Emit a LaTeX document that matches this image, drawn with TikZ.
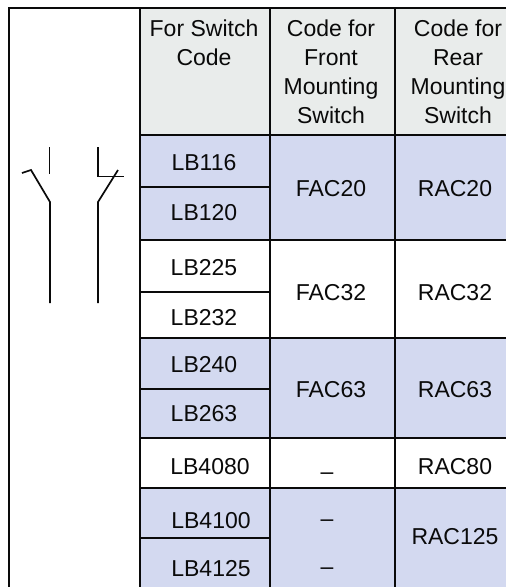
\documentclass[tikz,border=0pt]{standalone}
\usepackage{fontspec}
\setmainfont{Liberation Sans}
\definecolor{hdr}{HTML}{E9ECEB}
\definecolor{blu}{HTML}{D3D9F0}
\definecolor{ink}{HTML}{0A0A0A}
\tikzset{
 grid/.style={draw=ink,line width=2pt},
 sym/.style={draw=ink,line width=1.7pt,line join=miter},
 cell/.style={anchor=base,inner sep=0pt,text=ink,font=\fontsize{23}{29}\selectfont},
 head/.style={anchor=base,inner sep=0pt,text=ink,font=\fontsize{23}{29}\selectfont}
}
\begin{document}
\begin{tikzpicture}[x=1pt,y=-1pt]
\useasboundingbox (0,0) rectangle (506,587);
\fill[white] (0,0) rectangle (506,587);
% fills
\fill[hdr] (139.5,8) rectangle (506,135);
\fill[blu] (139.5,135) rectangle (506,240);
\fill[blu] (139.5,338) rectangle (506,437.7);
\fill[blu] (139.5,488) rectangle (506,587);
% grid
\draw[grid] (506,8) -- (9,8) -- (9,587);
\draw[grid] (139.5,8) -- (139.5,587);
\draw[grid] (269.5,8) -- (269.5,587);
\draw[grid] (395,8) -- (395,587);
\draw[grid] (139.5,135) -- (506,135);
\draw[grid] (139.5,240) -- (506,240);
\draw[grid] (139.5,338) -- (506,338);
\draw[grid] (139.5,437.7) -- (506,437.7);
\draw[grid] (139.5,488) -- (506,488);
\draw[grid] (139.5,186.5) -- (269.5,186.5);
\draw[grid] (139.5,292) -- (269.5,292);
\draw[grid] (139.5,388.7) -- (269.5,388.7);
\draw[grid] (139.5,538) -- (269.5,538);
% switch symbols
\draw[sym] (49.5,147) -- (49.5,174);
\draw[sym] (22,173) -- (31,170) -- (50,202) -- (50,303);
\draw[sym] (98,147) -- (98,176.5) -- (124,176.5);
\draw[sym] (118,170) -- (98,202) -- (98,303);
% headers
\node[head] (h1a) at (204,36) {For Switch};
\node[head] (h1b) at (204,65) {Code};
\node[head] (h2a) at (331,36) {Code for};
\node[head] (h2b) at (331,65) {Front};
\node[head] (h2c) at (331,94) {Mounting};
\node[head] (h2d) at (331,123) {Switch};
\node[head] (h3a) at (458,36) {Code for};
\node[head] (h3b) at (458,65) {Rear};
\node[head] (h3c) at (458,94) {Mounting};
\node[head] (h3d) at (458,123) {Switch};
% column 1
\node[cell] (a1) at (204,170) {LB116};
\node[cell] (a2) at (204,220) {LB120};
\node[cell] (a3) at (204,275) {LB225};
\node[cell] (a4) at (204,325) {LB232};
\node[cell] (a5) at (204,372) {LB240};
\node[cell] (a6) at (204,421) {LB263};
\node[cell] (a7) at (210,474) {LB4080};
\node[cell] (a8) at (211,528) {LB4100};
\node[cell] (a9) at (211,576) {LB4125};
% column 2
\node[cell] (b1) at (331,196) {FAC20};
\node[cell] (b2) at (331,300) {FAC32};
\node[cell] (b3) at (331,397) {FAC63};
\node[cell] (b4) at (327,479) {–};
\node[cell] (b5) at (327,526) {–};
\node[cell] (b6) at (327,574) {–};
% column 3
\node[cell] (c1) at (455,196) {RAC20};
\node[cell] (c2) at (455,300) {RAC32};
\node[cell] (c3) at (455,397) {RAC63};
\node[cell] (c4) at (455,474) {RAC80};
\node[cell] (c5) at (455,544) {RAC125};
\end{tikzpicture}
\end{document}
